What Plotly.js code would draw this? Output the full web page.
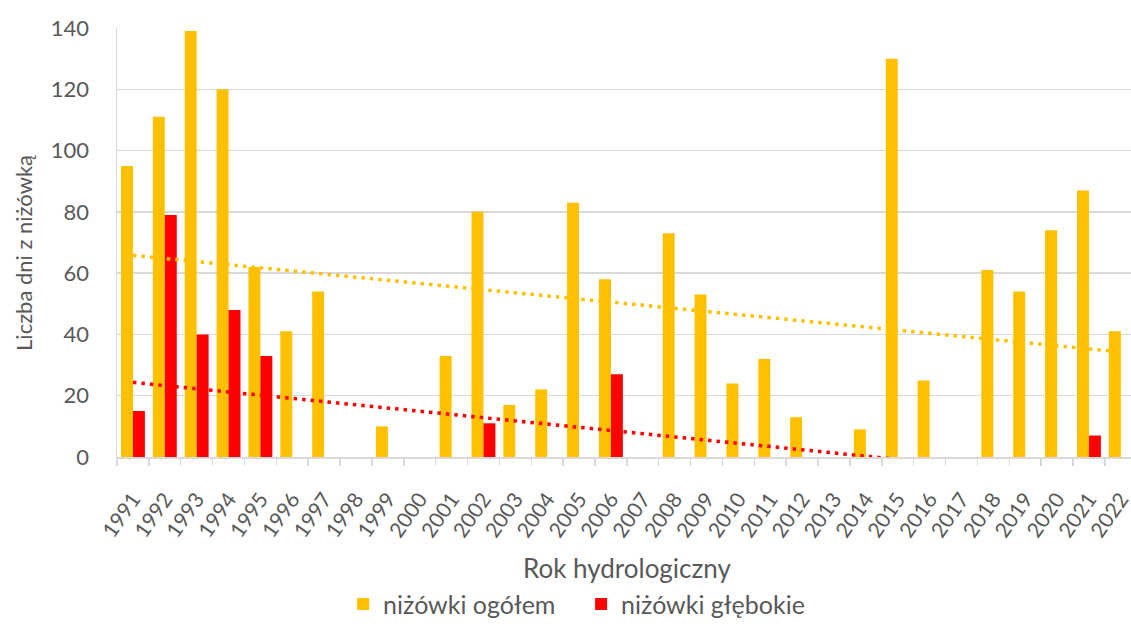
<!DOCTYPE html>
<html>
<head>
<meta charset="utf-8">
<script src="https://cdn.plot.ly/plotly-3.0.1.min.js"></script>
<style>html,body{margin:0;padding:0;background:#fff;}#chart{width:1131px;height:628px;}</style>
</head>
<body>
<div id="chart"></div>
<script>
const years = ["1991","1992","1993","1994","1995","1996","1997","1998","1999","2000","2001","2002","2003","2004","2005","2006","2007","2008","2009","2010","2011","2012","2013","2014","2015","2016","2017","2018","2019","2020","2021","2022"];
const total = [95,111,139,120,62,41,54,0,10,0,33,80,17,22,83,58,0,73,53,24,32,13,0,9,130,25,0,61,54,74,87,41];
const deep  = [15,79,40,48,33,0,0,0,0,0,0,11,0,0,0,27,0,0,0,0,0,0,0,0,0,0,0,0,0,0,7,0];
const yTicks = [0,20,40,60,80,100,120,140];

function linTrend(vals){
  const n = vals.length;
  let sx=0, sy=0, sxx=0, sxy=0;
  vals.forEach((v,i)=>{sx+=i; sy+=v; sxx+=i*i; sxy+=i*v;});
  const b = (n*sxy - sx*sy)/(n*sxx - sx*sx);
  const a = (sy - b*sx)/n;
  return vals.map((v,i)=>a+b*i);
}

const txt = '#595959';
const font = 'Lato, "Open Sans", sans-serif';

const data = [
  {type:'bar', name:'niżówki ogółem', x:years, y:total, marker:{color:'#FFC000'}},
  {type:'bar', name:'niżówki głębokie', x:years, y:deep, marker:{color:'#FF0000'}},
  {type:'scatter', mode:'lines', x:years, y:linTrend(total), line:{color:'#FFC000', width:3.5, dash:'3.5px,5px'}, showlegend:false, hoverinfo:'skip'},
  {type:'scatter', mode:'lines', x:years, y:linTrend(deep), line:{color:'#FF0000', width:3.5, dash:'3.5px,5px'}, showlegend:false, hoverinfo:'skip'}
];

const layout = {
  width:1131, height:628,
  margin:{l:117, r:0, t:28, b:171},
  paper_bgcolor:'#fff', plot_bgcolor:'#fff',
  font:{family:font, color:txt, size:21},
  barmode:'group', bargap:0.25, bargroupgap:0,
  xaxis:{
    type:'category', range:[-0.5, 31.32],
    tickson:'boundaries', ticks:'outside', ticklen:7, tickcolor:'#d9d9d9', tickwidth:1.5,
    showline:true, linecolor:'#d9d9d9', linewidth:1.5,
    tickangle:-55, tickfont:{size:21, color:txt}, ticklabelstandoff:20,
    showgrid:false, automargin:false
  },
  yaxis:{
    range:[0,140], tickvals:yTicks, ticktext:yTicks.map(String),
    showgrid:true, gridcolor:'#d9d9d9', gridwidth:1.5,
    showline:true, linecolor:'#d9d9d9', linewidth:1.5,
    ticks:'', tickfont:{size:22, color:txt}, ticklabelstandoff:22,
    zeroline:false, automargin:false
  },
  showlegend:true,
  legend:{orientation:'h', x:0.223, xanchor:'left', y:-0.397, yanchor:'bottom', font:{size:25, color:txt}, traceorder:'normal', entrywidth:193, entrywidthmode:'pixels'},
  annotations:[
    {text:'Liczba dni z niżówką', textangle:-90, xref:'paper', yref:'paper', x:-0.092, y:0.475, xanchor:'center', yanchor:'middle', showarrow:false, font:{size:22, color:txt}},
    {text:'Rok hydrologiczny', xref:'paper', yref:'paper', x:0.503, y:-0.2587, xanchor:'center', yanchor:'middle', showarrow:false, font:{size:26, color:txt}}
  ]
};

Plotly.newPlot('chart', data, layout, {displayModeBar:false, staticPlot:true});
</script>
</body>
</html>
